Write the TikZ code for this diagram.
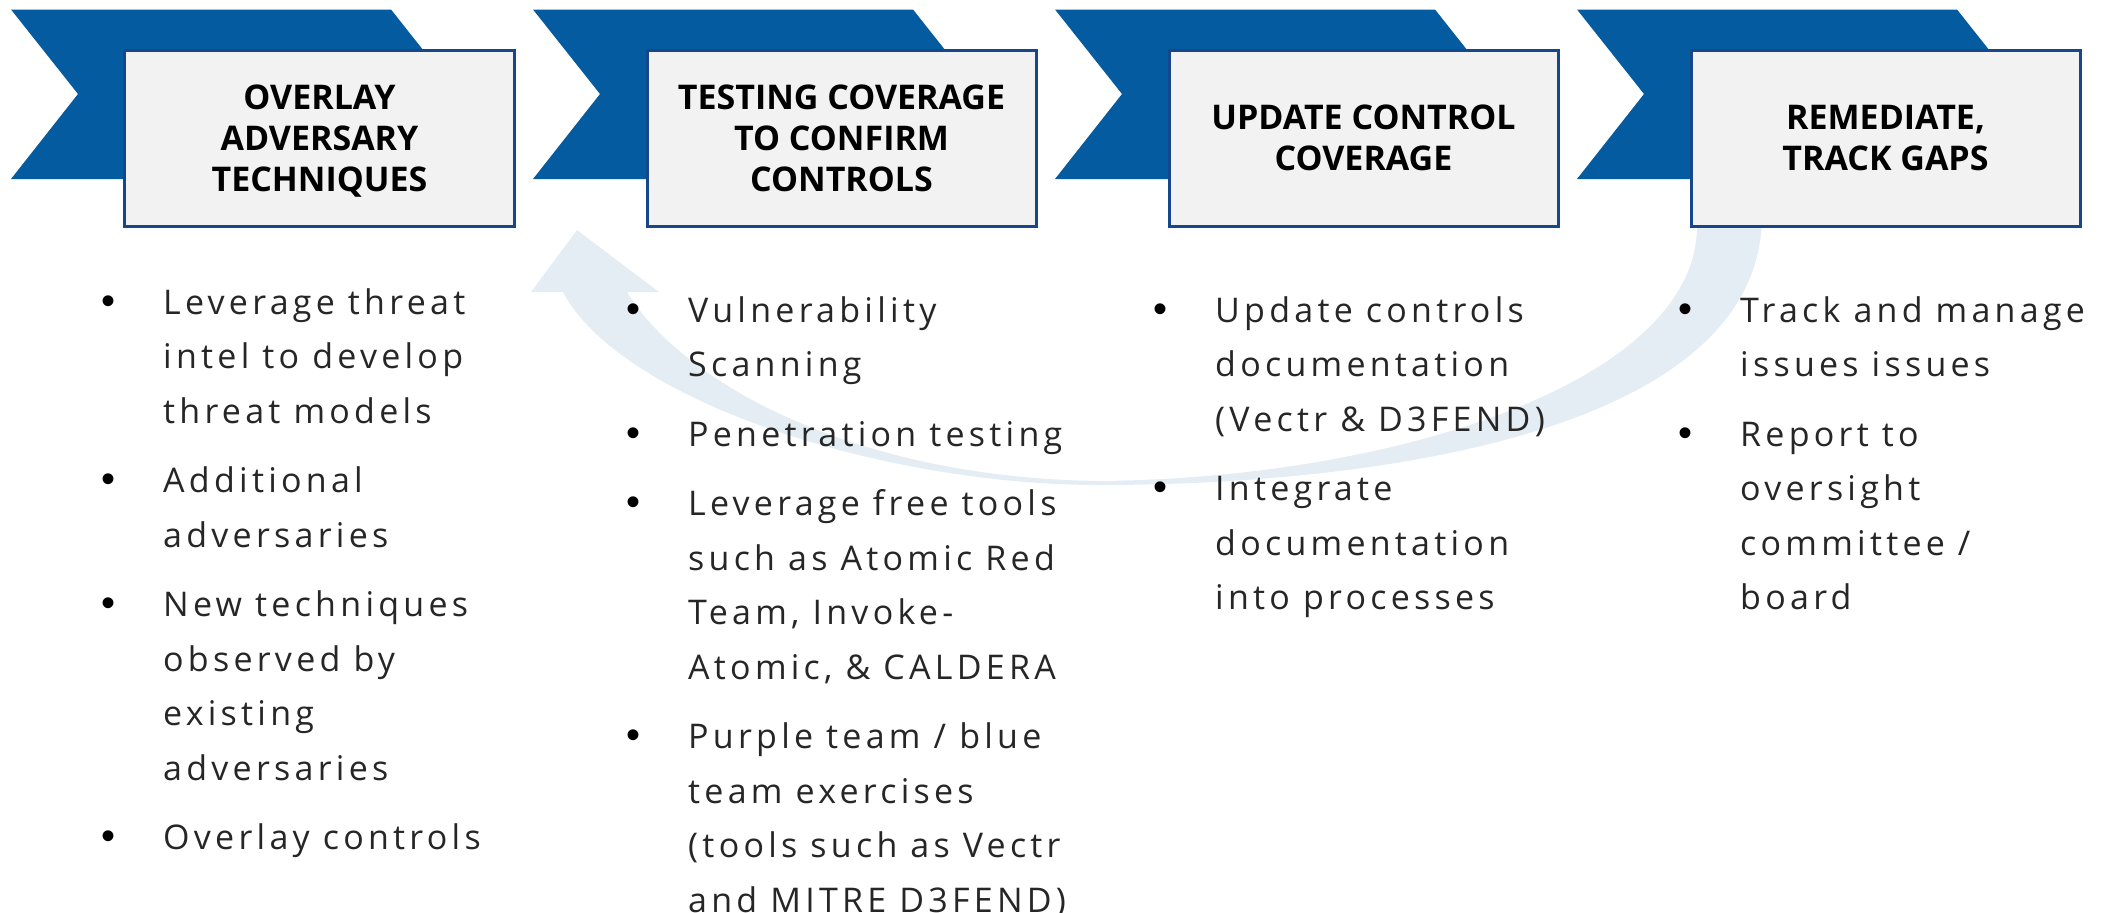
\documentclass[tikz,border=0pt]{standalone}
\usepackage{fontspec}
\setmainfont{Open Sans}
\newfontfamily\bodyfont{Open Sans}[LetterSpace=12.5]
\newfontfamily\bulletfont{Liberation Sans}
\definecolor{chevblue}{HTML}{055BA0}
\definecolor{boxline}{HTML}{17468A}
\definecolor{boxfill}{HTML}{F2F2F2}
\definecolor{bandblue}{HTML}{E4ECF4}
\definecolor{bodytext}{HTML}{262626}

% one bullet item; bullet centre sits 55bp left of the text edge
\newcommand\bitem[1]{\par\noindent\llap{{\bulletfont\fontsize{40bp}{40bp}\selectfont\color{black}\textbullet}\hspace{48bp}}#1\par}

\tikzset{
  chev/.style={fill=chevblue, draw=none},
  stepbox/.style={draw=boxline, line width=3bp, fill=boxfill, minimum width=389bp,
    minimum height=176bp, inner sep=0pt, align=center,
    font=\fontsize{34bp}{41bp}\selectfont\bfseries},
  itemcol/.style={anchor=base west, inner sep=0pt, text=bodytext},
  band/.style={fill=bandblue, draw=none}
}

\newcommand\colbody[1]{%
  \begin{minipage}[t]{420bp}\bodyfont\fontsize{34bp}{54.5bp}\selectfont
  \setlength{\parskip}{15bp}\raggedright #1\end{minipage}}

\begin{document}
\begin{tikzpicture}[x=1bp, y=-1bp]
\useasboundingbox (0,0) rectangle (2114,913);

% curved return arrow from the last step back to the second
\coordinate (bandOutStart) at (1762,215);
\coordinate (bandInStart) at (1697,215);
\coordinate (bandLow) at (1100,485);
\coordinate (bandLowIn) at (1100,481);
\coordinate (headTip) at (577,230);
\fill[band] (bandInStart) -- (bandOutStart)
  .. controls (1762,440) and (1350,485) .. (bandLow)
  .. controls (880,485) and (620,400) .. (563,292)
  -- (531,292) -- (headTip) -- (659,292) -- (627,292)
  .. controls (680,380) and (850,478) .. (bandLowIn)
  .. controls (1400,478) and (1697,380) .. (1697,226) -- cycle;

% chevrons behind the step boxes
\foreach \i in {0,...,3}{
  \pgfmathsetmacro{\xo}{11+522*\i}
  \fill[chev] (\xo,9.5) -- ({\xo+380},9.5) -- ({\xo+447},94) -- ({\xo+380},179)
    -- (\xo,179) -- ({\xo+67},94) -- cycle;
}

% step boxes
\node[stepbox] (s1) at (319.5,138) {OVERLAY\\ADVERSARY\\TECHNI\smash{Q}UES};
\node[stepbox] (s2) at (841.5,138) {TESTING COVERAGE\\TO CONFIRM\\CONTROLS};
\node[stepbox] (s3) at (1363.5,138) {UPDATE CONTROL\\COVERAGE};
\node[stepbox] (s4) at (1885.5,138) {REMEDIATE,\\TRACK GAPS};

% bullet lists under each step
\node[itemcol] (l1) at (163,314) {\colbody{%
  \bitem{Leverage threat\\intel to develop\\threat models}
  \bitem{Additional\\adversaries}
  \bitem{New techniques\\observed by\\existing\\adversaries}
  \bitem{Overlay controls}}};

\node[itemcol] (l2) at (688,322) {\colbody{%
  \bitem{Vulnerability\\Scanning}
  \bitem{Penetration testing}
  \bitem{Leverage free tools\\such as Atomic Red\\Team, Invoke-\\Atomic, \& CALDERA}
  \bitem{Purple team / blue\\team exercises\\(tools such as Vectr\\and MITRE D3FEND)}}};

\node[itemcol] (l3) at (1215,322) {\colbody{%
  \bitem{Update controls\\documentation\\(Vectr \& D3FEND)}
  \bitem{Integrate\\documentation\\into processes}}};

\node[itemcol] (l4) at (1740,322) {\colbody{%
  \bitem{Track and manage\\issues issues}
  \bitem{Report to\\oversight\\committee /\\board}}};
\end{tikzpicture}
\end{document}
